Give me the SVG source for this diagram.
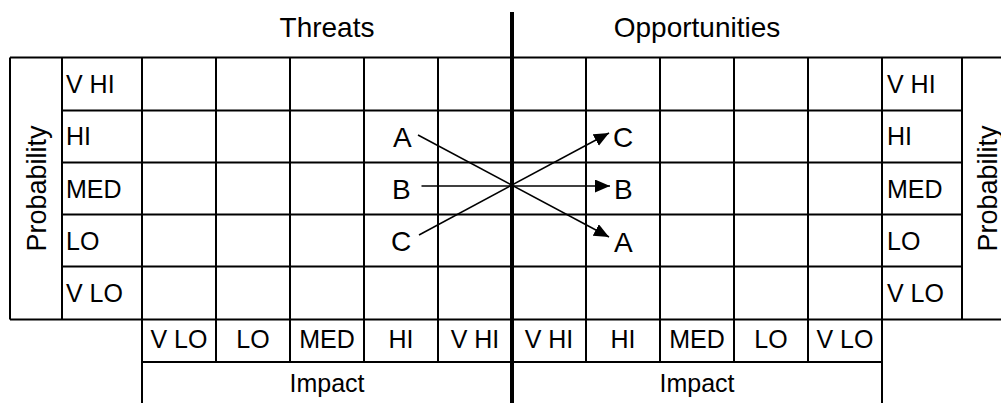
<svg xmlns="http://www.w3.org/2000/svg" width="1001" height="403" viewBox="0 0 1001 403">
  <style>
    .g { stroke: #000; stroke-width: 2; fill: none; }
    .thick { stroke: #000; stroke-width: 4; fill: none; }
    .t { font-family: "Liberation Sans", Arial, sans-serif; fill: #000; }
    .lbl { font-size: 25px; }
    .title { font-size: 28px; text-anchor: middle; }
    .let { font-size: 28px; }
    .c { text-anchor: middle; }
    .arr { stroke: #000; stroke-width: 1.5; fill: none; marker-end: url(#ah); }
  </style>
  <defs>
    <marker id="ah" markerUnits="userSpaceOnUse" markerWidth="16" markerHeight="14" refX="15" refY="6.5" orient="auto">
      <path d="M0,0 L15,6.5 L0,13 z" fill="#000"/>
    </marker>
  </defs>
  <rect width="1001" height="403" fill="#fff"/>

  <g id="grid">
    <path class="g" d="M10,57.5 H1001 M62,110.5 H962 M62,162.5 H962 M62,214.5 H962 M62,266.5 H962 M10,319.5 H1001 M142,362 H882"/>
    <path class="g" d="M10,57.5 V319.5 M62,57.5 V319.5 M962,57.5 V319.5 M142,57.5 V403 M882,57.5 V403 M216,57.5 V362 M290,57.5 V362 M364,57.5 V362 M438,57.5 V362 M586,57.5 V362 M660,57.5 V362 M734,57.5 V362 M808,57.5 V362"/>
    <path class="thick" d="M512,12 V403"/>
  </g>

  <g id="titles" class="t">
    <text class="title" x="327" y="37">Threats</text>
    <text class="title" x="697" y="37">Opportunities</text>
    <text class="t lbl c" x="327" y="392">Impact</text>
    <text class="t lbl c" x="697" y="392">Impact</text>
    <text class="t c" font-size="27" transform="translate(46,188.5) rotate(-90)">Probability</text>
    <text class="t c" font-size="27" transform="translate(997,188.5) rotate(-90)">Probability</text>
  </g>

  <g id="prob-left" class="t lbl">
    <text x="66" y="93">V HI</text>
    <text x="66" y="145">HI</text>
    <text x="66" y="197.5">MED</text>
    <text x="66" y="249.5">LO</text>
    <text x="66" y="302">V LO</text>
  </g>
  <g id="prob-right" class="t lbl">
    <text x="887" y="93">V HI</text>
    <text x="887" y="145">HI</text>
    <text x="887" y="197.5">MED</text>
    <text x="887" y="249.5">LO</text>
    <text x="887" y="302">V LO</text>
  </g>

  <g id="impact-threats" class="t lbl c">
    <text x="179" y="348">V LO</text>
    <text x="253" y="348">LO</text>
    <text x="327" y="348">MED</text>
    <text x="401" y="348">HI</text>
    <text x="475" y="348">V HI</text>
  </g>
  <g id="impact-opps" class="t lbl c">
    <text x="549" y="348">V HI</text>
    <text x="623" y="348">HI</text>
    <text x="697" y="348">MED</text>
    <text x="771" y="348">LO</text>
    <text x="845" y="348">V LO</text>
  </g>

  <g id="risks-left" class="t let">
    <text x="393" y="146.5">A</text>
    <text x="392" y="199">B</text>
    <text x="391" y="251">C</text>
  </g>
  <g id="risks-right" class="t let">
    <text x="613" y="146.5">C</text>
    <text x="614" y="199">B</text>
    <text x="614" y="251.5">A</text>
  </g>

  <g id="connectors">
    <line class="arr" x1="418" y1="135" x2="609" y2="237"/>
    <line class="arr" x1="421.5" y1="186" x2="610" y2="186"/>
    <line class="arr" x1="419" y1="235" x2="609" y2="133"/>
  </g>
</svg>
